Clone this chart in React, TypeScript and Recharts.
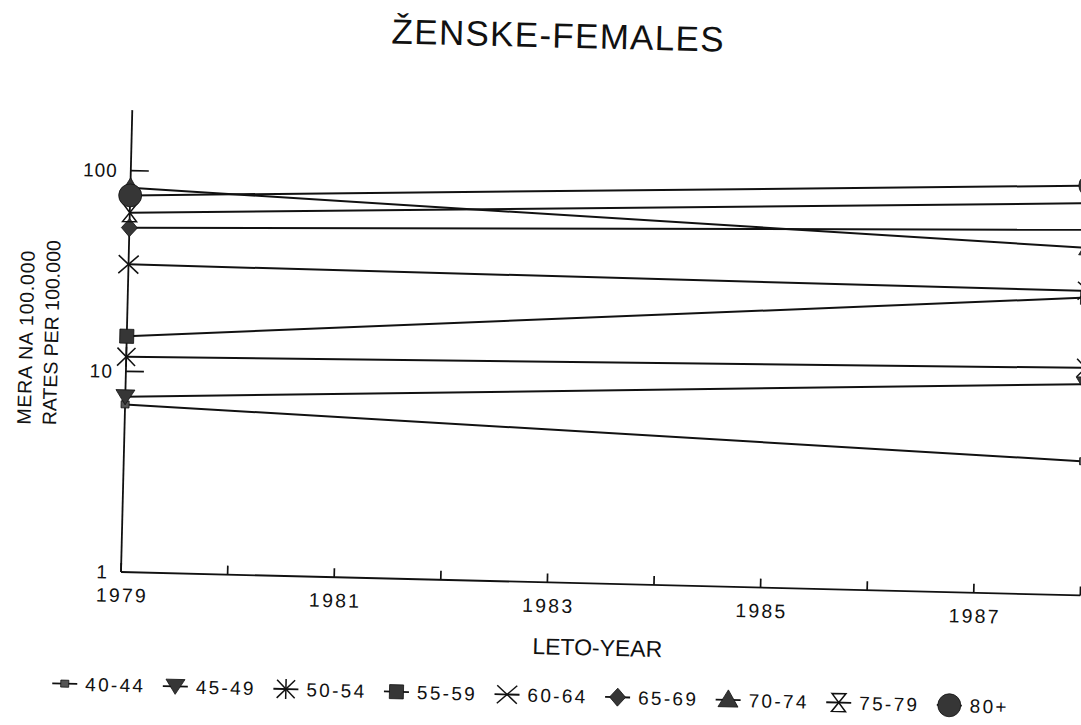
import React from 'react';
import { LineChart, Line, XAxis, YAxis } from 'recharts';

// ---- data ----
const years = [1979, 1988];
const yearTicks = [1979, 1980, 1981, 1982, 1983, 1984, 1985, 1986, 1987, 1988];
const rateTicks = [1, 10, 100];
const ageGroups = ['40-44', '45-49', '50-54', '55-59', '60-64', '65-69', '70-74', '75-79', '80+'];
const r40_44 = [6.84, 4.66];
const r45_49 = [7.46, 11.3];
const r50_54 = [11.8, 13.6];
const r55_59 = [14.95, 30.5];
const r60_64 = [34.1, 32.9];
const r65_69 = [51.9, 66.3];
const r70_74 = [82.1, 53.8];
const r75_79 = [61.7, 89.9];
const r80p = [75.2, 110.1];

const seriesValues = [r40_44, r45_49, r50_54, r55_59, r60_64, r65_69, r70_74, r75_79, r80p];
const markerKinds = ['smallSquare', 'triDown', 'asterisk', 'square', 'cross', 'diamond', 'triUp', 'hourglass', 'circle'];

const rows = years.map((year, i) => {
  const row: Record<string, number> = { year };
  seriesValues.forEach((vals, k) => {
    row['s' + k] = vals[i];
  });
  return row;
});

const FONT = '"Liberation Sans", Arial, Helvetica, sans-serif';
const INK = '#111';
const FILL = '#363636';

function Marker({ kind, cx, cy }: { kind: string; cx: number; cy: number }) {
  switch (kind) {
    case 'smallSquare':
      return <rect x={cx - 4} y={cy - 3.5} width={8} height={7} fill="#555" stroke={INK} strokeWidth={0.8} />;
    case 'triDown':
      return <polygon points={`${cx - 9.5},${cy - 7} ${cx + 9.5},${cy - 7} ${cx},${cy + 8}`} fill={FILL} stroke={INK} strokeWidth={0.8} />;
    case 'asterisk':
      return (
        <g stroke={INK} strokeWidth={1.5}>
          <line x1={cx - 9} y1={cy - 9} x2={cx + 9} y2={cy + 9} />
          <line x1={cx - 9} y1={cy + 9} x2={cx + 9} y2={cy - 9} />
          <line x1={cx} y1={cy - 10} x2={cx} y2={cy + 10} />
        </g>
      );
    case 'square':
      return <rect x={cx - 7} y={cy - 7} width={14} height={14} fill={FILL} stroke={INK} strokeWidth={0.8} />;
    case 'cross':
      return (
        <g stroke={INK} strokeWidth={1.5}>
          <line x1={cx - 10} y1={cy - 9} x2={cx + 10} y2={cy + 9} />
          <line x1={cx - 10} y1={cy + 9} x2={cx + 10} y2={cy - 9} />
        </g>
      );
    case 'diamond':
      return <polygon points={`${cx},${cy - 9} ${cx + 8},${cy} ${cx},${cy + 9} ${cx - 8},${cy}`} fill={FILL} stroke={INK} strokeWidth={0.8} />;
    case 'triUp':
      return <polygon points={`${cx - 10},${cy + 7} ${cx + 10},${cy + 7} ${cx},${cy - 10}`} fill={FILL} stroke={INK} strokeWidth={0.8} />;
    case 'hourglass':
      return (
        <path
          d={`M${cx - 7},${cy - 9} L${cx + 7},${cy - 9} L${cx - 7},${cy + 9} L${cx + 7},${cy + 9} Z`}
          fill="none"
          stroke={INK}
          strokeWidth={1.5}
        />
      );
    case 'circle':
    default:
      return <circle cx={cx} cy={cy} r={11.5} fill={FILL} stroke={INK} strokeWidth={0.8} />;
  }
}

function XTick(props: any) {
  const { x, y, payload } = props;
  const v = payload.value as number;
  return (
    <g>
      <line x1={x} y1={y} x2={x} y2={y - 9} stroke={INK} strokeWidth={1.7} />
      {v % 2 === 1 && (
        <text x={x + 1.5} y={y + 30} textAnchor="middle" fontSize={19.5} fontFamily={FONT} fill={INK} style={{ letterSpacing: 2.2 }}>
          {v}
        </text>
      )}
    </g>
  );
}

function YTick(props: any) {
  const { x, y, payload } = props;
  const v = payload.value as number;
  return (
    <g>
      {v !== 1 && <line x1={x} y1={y} x2={x + 18} y2={y} stroke={INK} strokeWidth={1.7} />}
      <text x={x - 13} y={y + 6.8} textAnchor="end" fontSize={19} fontFamily={FONT} fill={INK} style={{ letterSpacing: 1 }}>
        {v}
      </text>
    </g>
  );
}

export default function App() {
  return (
    <div style={{ position: 'fixed', left: 0, top: 0, width: 1081, height: 725, overflow: 'hidden', background: '#fff' }}>
      <div
        style={{
          position: 'absolute',
          left: 0,
          top: 0,
          width: 1200,
          height: 725,
          transform: 'rotate(1.4deg)',
          transformOrigin: '121px 572px',
        }}
      >
        <LineChart width={1200} height={725} data={rows} margin={{ top: 110, right: 119.4, bottom: 123, left: 61 }}>
          <XAxis
            dataKey="year"
            type="number"
            domain={[1979, 1988]}
            ticks={yearTicks}
            interval={0}
            height={30}
            tickSize={0}
            tickMargin={0}
            tickLine={false}
            axisLine={{ stroke: INK, strokeWidth: 1.8 }}
            tick={<XTick />}
          />
          <YAxis
            scale="log"
            type="number"
            domain={[1, 200]}
            ticks={rateTicks}
            interval={0}
            width={60}
            tickSize={0}
            tickMargin={0}
            tickLine={false}
            axisLine={{ stroke: INK, strokeWidth: 1.8 }}
            tick={<YTick />}
          />
          {seriesValues.map((_, k) => (
            <Line
              key={'s' + k}
              dataKey={'s' + k}
              name={ageGroups[k]}
              type="linear"
              stroke={INK}
              strokeWidth={2}
              isAnimationActive={false}
              activeDot={false}
              dot={(p: any) => <Marker key={`m${k}-${p.index}`} kind={markerKinds[k]} cx={p.cx} cy={p.cy} />}
            />
          ))}
        </LineChart>
        <svg
          width={1200}
          height={725}
          style={{ position: 'absolute', left: 0, top: 0, pointerEvents: 'none' }}
          fontFamily={FONT}
        >
          <text x={545} y={37} textAnchor="middle" fontSize={35} fill={INK} style={{ letterSpacing: 1.3 }}>
            ŽENSKE-FEMALES
          </text>
          <text x={599} y={644} textAnchor="middle" fontSize={23} fill={INK}>
            LETO-YEAR
          </text>
          <text transform="translate(27,427) rotate(-90)" textAnchor="start" fontSize={19.5} fill={INK} style={{ letterSpacing: 0.8 }}>
            MERA NA 100.000
          </text>
          <text transform="translate(52.4,427) rotate(-90)" textAnchor="start" fontSize={19.5} fill={INK}>
            RATES PER 100.000
          </text>
          {ageGroups.map((g, i) => {
            const x0 = 55 + i * 110.6;
            return (
              <g key={g}>
                <line x1={x0} y1={685} x2={x0 + 25} y2={685} stroke={INK} strokeWidth={1.8} />
                <Marker kind={markerKinds[i]} cx={x0 + 12.5} cy={685} />
                <text x={x0 + 33} y={691.8} fontSize={19} fill={INK} style={{ letterSpacing: 2.3 }}>
                  {g}
                </text>
              </g>
            );
          })}
        </svg>
      </div>
    </div>
  );
}
